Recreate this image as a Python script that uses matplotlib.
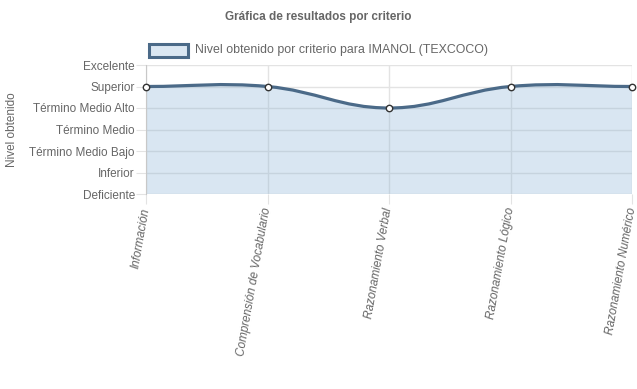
import numpy as np
import matplotlib.pyplot as plt
from matplotlib.path import Path
from matplotlib.patches import PathPatch

plt.rcParams['font.family'] = ['Liberation Sans', 'DejaVu Sans']

# Data
criterios = ["Información", "Comprensión de Vocabulario", "Razonamiento Verbal",
             "Razonamiento Lógico", "Razonamiento Numérico"]
niveles = ["Deficiente", "Inferior", "Término Medio Bajo", "Término Medio",
           "Término Medio Alto", "Superior", "Excelente"]
valores = [5, 5, 4, 5, 5]
serie = "Nivel obtenido por criterio para IMANOL (TEXCOCO)"

W, H = 637, 389
fig = plt.figure(figsize=(W / 100, H / 100), dpi=100)
ax = fig.add_axes([146 / W, 1 - 194 / H, (632 - 146) / W, (194 - 65) / H])

x = np.arange(len(criterios))
ax.set_xlim(0, len(criterios) - 1)
ax.set_ylim(0, len(niveles) - 1)

line_col = '#4b6a88'
grid_col = '#e3e3e3'
txt_col = '#666666'
fs = 8.5


def spline_points(px, py, t=0.4):
    # chart.js style bezier control points, computed in pixel space
    n = len(px)
    c1, c2 = [], []
    for i in range(n):
        p0 = (px[max(i - 1, 0)], py[max(i - 1, 0)])
        p1 = (px[i], py[i])
        p2 = (px[min(i + 1, n - 1)], py[min(i + 1, n - 1)])
        d01 = np.hypot(p1[0] - p0[0], p1[1] - p0[1])
        d12 = np.hypot(p2[0] - p1[0], p2[1] - p1[1])
        s01 = d01 / (d01 + d12) if d01 + d12 else 0
        s12 = d12 / (d01 + d12) if d01 + d12 else 0
        fa, fb = t * s01, t * s12
        c1.append((p1[0] - fa * (p2[0] - p0[0]), p1[1] - fa * (p2[1] - p0[1])))
        c2.append((p1[0] + fb * (p2[0] - p0[0]), p1[1] + fb * (p2[1] - p0[1])))
    return c1, c2


pix = ax.transData.transform(np.column_stack([x, valores]))
c1, c2 = spline_points(pix[:, 0], pix[:, 1])
inv = ax.transData.inverted()
verts = [tuple(inv.transform(pix[0]))]
codes = [Path.MOVETO]
for i in range(1, len(x)):
    verts += [tuple(inv.transform(c2[i - 1])), tuple(inv.transform(c1[i])),
              tuple(inv.transform(pix[i]))]
    codes += [Path.CURVE4] * 3
curve = Path(verts, codes)

fill_verts = verts + [(x[-1], 0), (x[0], 0), verts[0]]
fill_codes = codes + [Path.LINETO, Path.LINETO, Path.CLOSEPOLY]
ax.add_patch(PathPatch(Path(fill_verts, fill_codes), facecolor='#84afd4',
                       alpha=0.3, edgecolor='none', zorder=2))
ax.add_patch(PathPatch(curve, facecolor='none', edgecolor=line_col,
                       lw=2.3, zorder=3))
ax.plot(x, valores, 'o', ms=4.6, mfc='white', mec='#333333', mew=1.0, zorder=4,
        clip_on=False)

ax.set_xticks(x)
ax.set_xticklabels(criterios, rotation=80, style='italic', ha='right',
                   va='center', rotation_mode='anchor', fontsize=fs,
                   color=txt_col)
ax.set_yticks(range(len(niveles)))
ax.set_yticklabels(niveles, fontsize=fs, color=txt_col)
ax.tick_params(axis='both', length=7, color=grid_col, pad=1)
ax.tick_params(axis='x', pad=3)
ax.grid(True, color=grid_col, lw=1, zorder=1)
ax.set_axisbelow(True)
for s in ['top', 'right', 'bottom']:
    ax.spines[s].set_visible(False)
ax.spines['left'].set_color('#c8c8c8')

fig.text(12 / W, 1 - 130 / H, "Nivel obtenido", rotation=90, ha='center',
         va='center', fontsize=fs, color=txt_col)
fig.text(318 / W, 1 - 17 / H, "Gráfica de resultados por criterio",
         ha='center', va='center', fontsize=fs, fontweight='bold',
         color=txt_col)

# legend box
fig.patches.append(plt.Rectangle((149 / W, 1 - 57 / H), 39 / W, 13 / H,
                                 transform=fig.transFigure, facecolor='#dbe7f2',
                                 edgecolor=line_col, lw=2.2))
fig.text(195 / W, 1 - 50 / H, serie, ha='left', va='center', fontsize=8.9,
         color=txt_col)

fig.savefig("out.png", dpi=100)
